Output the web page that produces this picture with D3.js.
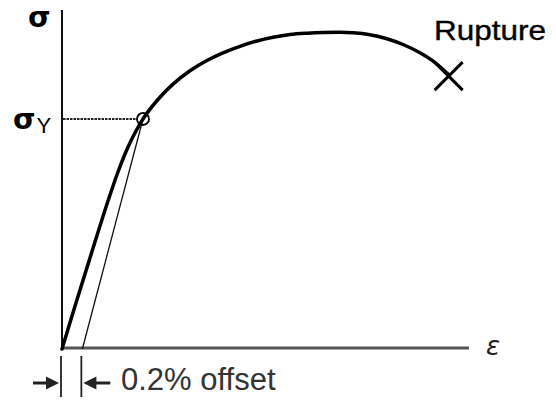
<!DOCTYPE html>
<html>
<head>
<meta charset="utf-8">
<script src="https://cdn.jsdelivr.net/npm/d3@7"></script>
<style>
  html, body { margin: 0; padding: 0; background: #fff; }
  svg { display: block; }
</style>
</head>
<body>
<svg id="chart" width="556" height="401"></svg>
<script>
// --- Data (strain in %, stress in arbitrary units) ---
const strain = [0, 0.128, 0.275, 0.452, 0.550, 0.649, 0.727, 0.796, 0.943, 1.091,
                1.258, 1.425, 1.582, 1.749, 1.907, 2.074, 2.241, 2.408, 2.565, 2.732,
                2.860, 3.027, 3.194, 3.351, 3.518, 3.666, 3.803];
const stress = [0, 12.68, 26.84, 43.66, 52.21, 59.59, 64.31, 67.85, 73.60, 78.14,
                82.09, 85.10, 87.35, 89.29, 90.77, 91.95, 92.77, 93.16, 93.36, 93.42,
                93.27, 92.71, 91.53, 89.82, 87.40, 84.51, 80.83];
const offsetStrain = 0.2;
const yieldPoint = [0.796, 67.85];
const rupturePoint = [3.80, 80.5];
const labels = { stress: "σ", yieldStress: "σ", yieldSub: "Y", strain: "ε", rupture: "Rupture", offset: "0.2% offset" };

// --- Scales ---
const x = d3.scaleLinear().domain([0, 4]).range([62, 469]);
const y = d3.scaleLinear().domain([0, 100]).range([349, 10]);

const svg = d3.select("#chart");

// --- Axes (plain lines) ---
svg.append("line")
    .attr("x1", x(0)).attr("x2", x(0))
    .attr("y1", y(0)).attr("y2", y(100))
    .attr("stroke", "#111").attr("stroke-width", 2);

svg.append("line")
    .attr("x1", x(0)).attr("x2", x(4))
    .attr("y1", y(0) - 1).attr("y2", y(0) - 1)
    .attr("stroke", "#555").attr("stroke-width", 3);

// --- Yield dotted line ---
svg.append("line")
    .attr("x1", x(0) + 1).attr("x2", x(yieldPoint[0]) - 6)
    .attr("y1", y(yieldPoint[1])).attr("y2", y(yieldPoint[1]))
    .attr("stroke", "#222").attr("stroke-width", 2)
    .attr("stroke-dasharray", "2.5,1");

// --- 0.2% offset line ---
svg.append("line")
    .attr("x1", x(offsetStrain)).attr("y1", y(0))
    .attr("x2", x(yieldPoint[0])).attr("y2", y(yieldPoint[1]))
    .attr("stroke", "#111").attr("stroke-width", 1.3);

// --- Stress-strain curve ---
const line = d3.line()
    .x((d, i) => x(strain[i]))
    .y((d, i) => y(stress[i]))
    .curve(d3.curveMonotoneX);

svg.append("path")
    .datum(strain)
    .attr("d", line)
    .attr("fill", "none")
    .attr("stroke", "#000")
    .attr("stroke-width", 3.5)
    .attr("stroke-linecap", "round");

// --- Yield circle ---
svg.append("circle")
    .attr("cx", x(yieldPoint[0])).attr("cy", y(yieldPoint[1]))
    .attr("r", 6)
    .attr("fill", "none").attr("stroke", "#000").attr("stroke-width", 1.8);

// --- Rupture X ---
const rx = x(rupturePoint[0]), ry = y(rupturePoint[1]), rs = 14;
svg.append("path")
    .attr("d", `M${rx - rs},${ry - rs}L${rx + rs},${ry + rs}M${rx + rs},${ry - rs}L${rx - rs},${ry + rs}`)
    .attr("stroke", "#000").attr("stroke-width", 3);

// --- Labels ---
svg.append("text")
    .attr("x", 28).attr("y", 27)
    .attr("font-family", "DejaVu Sans").attr("font-weight", "bold").attr("font-size", 29)
    .text(labels.stress);

const sy = svg.append("text")
    .attr("x", 13).attr("y", 129)
    .attr("font-family", "DejaVu Sans").attr("font-weight", "bold").attr("font-size", 29)
    .text(labels.yieldStress);
sy.append("tspan")
    .attr("font-family", "Liberation Sans").attr("font-weight", "normal").attr("font-size", 22)
    .attr("dx", 1).attr("dy", 4)
    .text(labels.yieldSub);

svg.append("text")
    .attr("x", 486).attr("y", 355)
    .attr("font-family", "DejaVu Sans").attr("font-style", "italic").attr("font-size", 26)
    .attr("fill", "#222")
    .text(labels.strain);

svg.append("text")
    .attr("x", 434).attr("y", 40)
    .attr("font-family", "Liberation Sans").attr("font-size", 28)
    .attr("stroke", "#000").attr("stroke-width", 0.4)
    .attr("textLength", 112).attr("lengthAdjust", "spacingAndGlyphs")
    .text(labels.rupture);

svg.append("text")
    .attr("x", 121).attr("y", 390)
    .attr("font-family", "Liberation Sans").attr("font-size", 31)
    .attr("fill", "#333")
    .text(labels.offset);

// --- Offset dimension marks ---
const dimY = 383;
[0, offsetStrain].forEach(s => {
    svg.append("line")
        .attr("x1", x(s) - 1).attr("x2", x(s) - 1)
        .attr("y1", 356).attr("y2", 397)
        .attr("stroke", "#222").attr("stroke-width", 1.8);
});

function arrow(tipX, dir, len) {
    // dir = +1 points right, -1 points left
    svg.append("line")
        .attr("x1", tipX - dir * len).attr("x2", tipX - dir * 8)
        .attr("y1", dimY).attr("y2", dimY)
        .attr("stroke", "#222").attr("stroke-width", 3);
    svg.append("path")
        .attr("d", `M${tipX},${dimY}L${tipX - dir * 13},${dimY - 6.5}L${tipX - dir * 13},${dimY + 6.5}Z`)
        .attr("fill", "#222");
}
arrow(x(0) - 3, 1, 26);
arrow(x(offsetStrain) + 1, -1, 27);
</script>
</body>
</html>
